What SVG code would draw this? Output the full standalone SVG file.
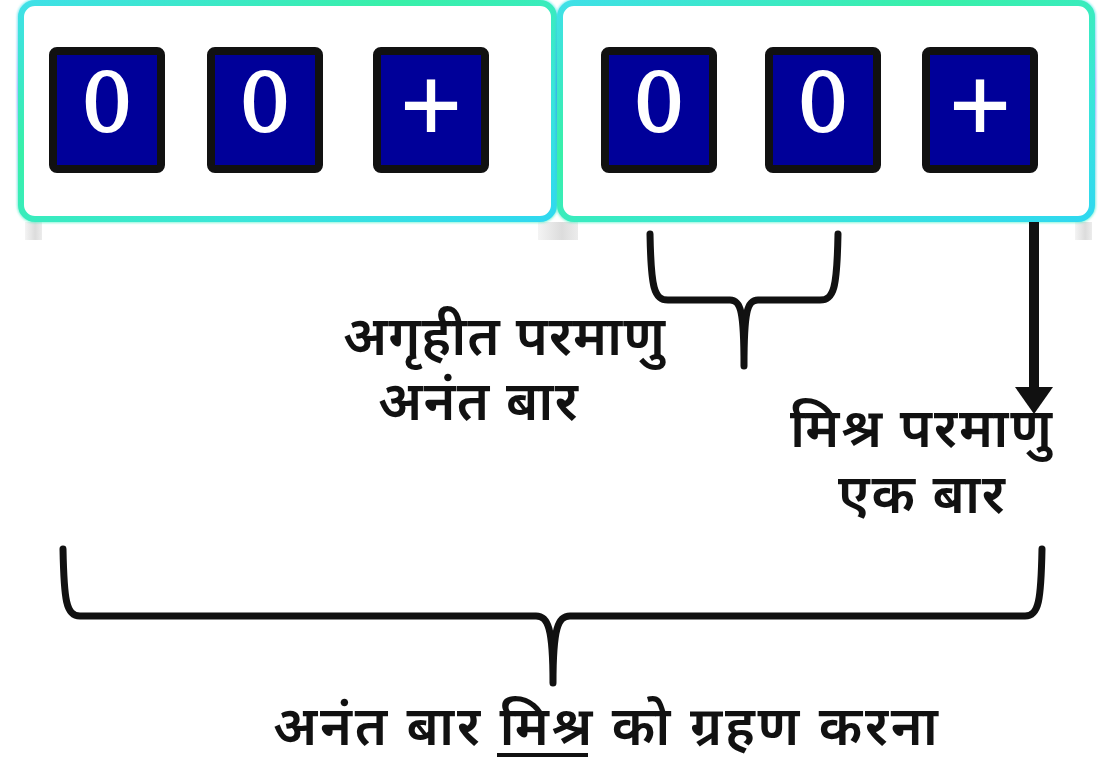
<svg xmlns="http://www.w3.org/2000/svg" width="1099" height="768" viewBox="0 0 1099 768">
  <defs>
    <linearGradient id="rim" x1="0" y1="0" x2="1" y2="1">
      <stop offset="0" stop-color="#3fe0e8"/>
      <stop offset="0.35" stop-color="#38f0a8"/>
      <stop offset="0.7" stop-color="#3ae6d8"/>
      <stop offset="1" stop-color="#2fd8f0"/>
    </linearGradient>
    <linearGradient id="rimSide" x1="0" y1="0" x2="0" y2="1">
      <stop offset="0" stop-color="#40e8e8"/>
      <stop offset="0.4" stop-color="#3a70ff"/>
      <stop offset="1" stop-color="#40f0c0"/>
    </linearGradient>
    <linearGradient id="leg" x1="0" y1="0" x2="1" y2="0">
      <stop offset="0" stop-color="#f4f4f4"/>
      <stop offset="0.6" stop-color="#dcdcdc"/>
      <stop offset="1" stop-color="#ececec"/>
    </linearGradient>
    <filter id="glow" x="-5%" y="-10%" width="110%" height="120%">
      <feGaussianBlur stdDeviation="1.2"/>
    </filter>
  </defs>
  <style>
    .panel { fill: #ffffff; stroke: url(#rim); stroke-width: 6; }
    .cell { fill: #000099; stroke: #111111; stroke-width: 8; }
    .glyph { font-family: "DejaVu Serif", serif; font-size: 80px; fill: #ffffff; stroke: #ffffff; stroke-width: 2; text-anchor: middle; }
    .label { font-family: "Noto Sans Devanagari", "Lohit Devanagari", "Noto Sans", sans-serif; font-size: 54px; font-weight: 600; fill: #111111; }
    .brace { fill: none; stroke: #111111; stroke-width: 7; stroke-linecap: round; stroke-linejoin: round; }
  </style>

  <!-- support legs under the panels -->
  <rect x="25" y="222" width="17" height="18" fill="url(#leg)"/>
  <rect x="538" y="222" width="40" height="18" fill="url(#leg)"/>
  <rect x="1075" y="222" width="17" height="18" fill="url(#leg)"/>

  <g id="panel-left">
    <rect x="21" y="3" width="533" height="216" rx="14" fill="none" stroke="url(#rimSide)" stroke-width="8" opacity="0.6" filter="url(#glow)"/>
    <rect class="panel" x="21" y="3" width="533" height="216" rx="14"/>
  </g>
  <g id="panel-right">
    <rect x="560" y="3" width="532" height="216" rx="14" fill="none" stroke="url(#rimSide)" stroke-width="8" opacity="0.6" filter="url(#glow)"/>
    <rect class="panel" x="560" y="3" width="532" height="216" rx="14"/>
  </g>

  <g id="cell-1"><rect class="cell" x="53" y="51" width="108" height="118" rx="4"/><text class="glyph" x="107" y="131">0</text></g>
  <g id="cell-2"><rect class="cell" x="211" y="51" width="108" height="118" rx="4"/><text class="glyph" x="265" y="131">0</text></g>
  <g id="cell-3"><rect class="cell" x="377" y="51" width="108" height="118" rx="4"/><text class="glyph" x="431" y="131">+</text></g>
  <g id="cell-4"><rect class="cell" x="605" y="51" width="108" height="118" rx="4"/><text class="glyph" x="659" y="131">0</text></g>
  <g id="cell-5"><rect class="cell" x="769" y="51" width="108" height="118" rx="4"/><text class="glyph" x="823" y="131">0</text></g>
  <g id="cell-6"><rect class="cell" x="926" y="51" width="108" height="118" rx="4"/><text class="glyph" x="980" y="131">+</text></g>

  <g id="connectors">
    <path class="brace" d="M650,234 C651,288 654,300 668,300 L730,300 C741,300 744,312 744,366 C744,312 747,300 758,300 L820,300 C834,300 837,288 838,234"/>
    <line x1="1034" y1="222" x2="1034" y2="392" stroke="#111111" stroke-width="10"/>
    <polygon points="1015,387 1053,387 1034,414" fill="#111111"/>
    <path class="brace" d="M63,549 C64,600 66,616 80,616 L536,616 C548,616 553,628 553,683 C553,628 558,616 570,616 L1025,616 C1039,616 1041,600 1042,549"/>
  </g>

  <g id="label-unheld">
    <text class="label" x="343" y="355" textLength="322" lengthAdjust="spacing">अगृहीत परमाणु</text>
    <text class="label" x="378" y="420" textLength="200" lengthAdjust="spacing">अनंत बार</text>
  </g>
  <g id="label-mixed">
    <text class="label" x="790" y="447" textLength="262" lengthAdjust="spacing">मिश्र परमाणु</text>
    <text class="label" x="838" y="513" textLength="167" lengthAdjust="spacing">एक बार</text>
  </g>
  <g id="label-total">
    <text class="label" x="273" y="745" textLength="665" lengthAdjust="spacing">अनंत बार मिश्र को ग्रहण करना</text>
    <line x1="497" y1="755" x2="588" y2="755" stroke="#111111" stroke-width="4"/>
  </g>
</svg>
